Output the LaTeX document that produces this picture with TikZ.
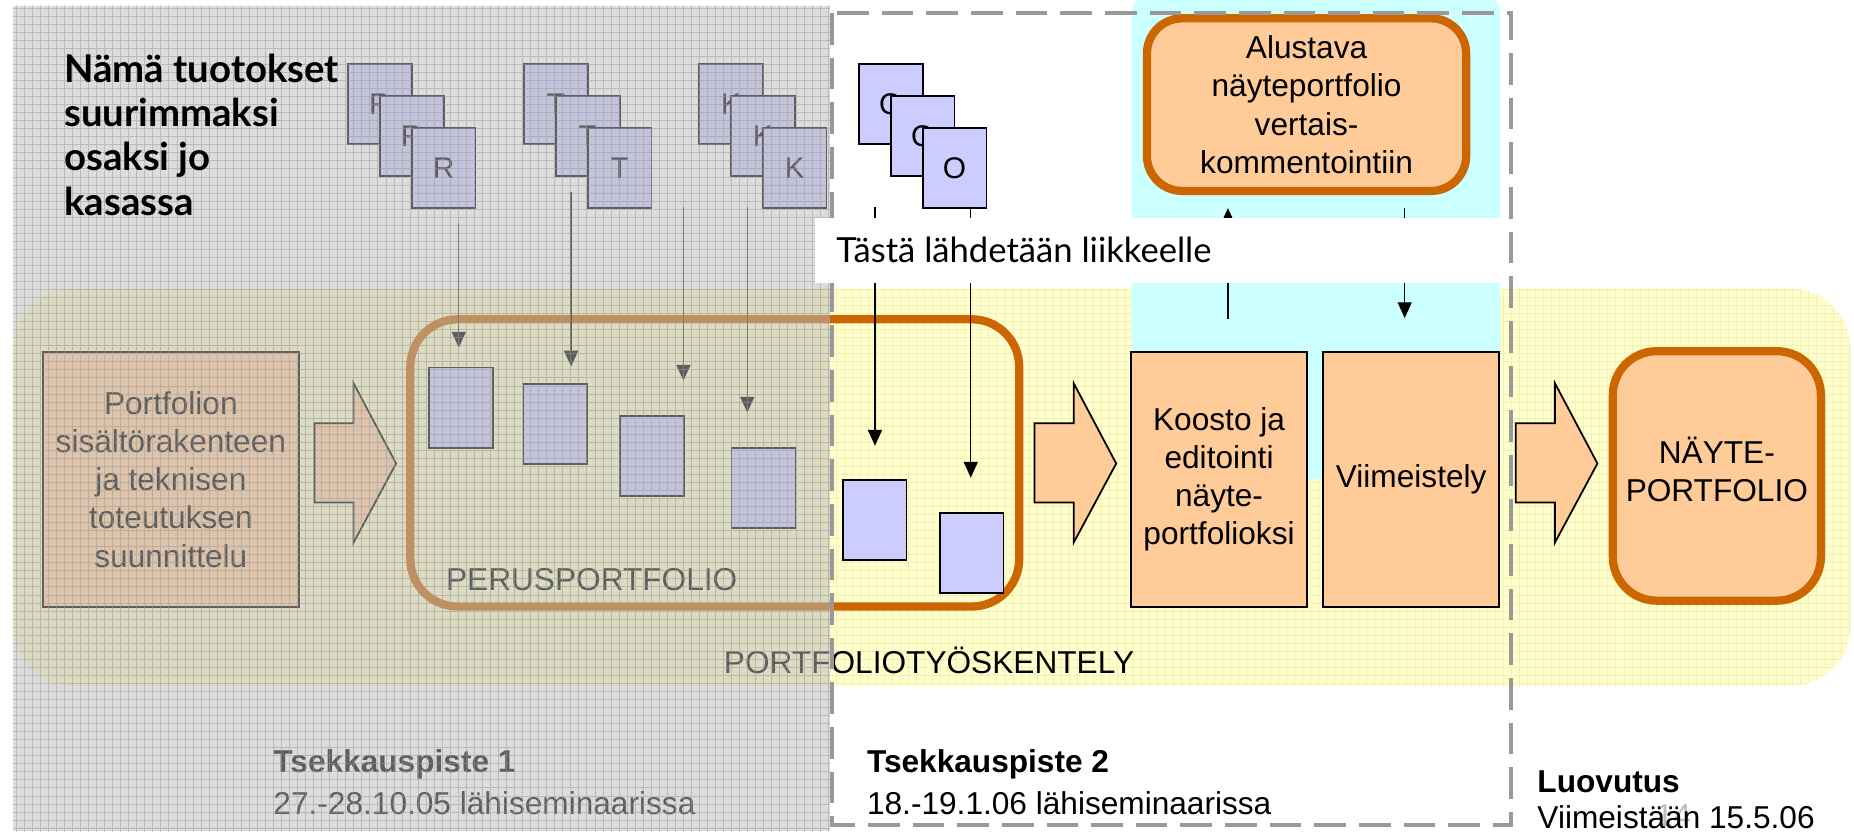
\documentclass[tikz,border=0pt]{standalone}
\usepackage{fontspec}
\setmainfont{Liberation Sans}
\newfontfamily\gill{Lato}
\usetikzlibrary{arrows.meta}
\definecolor{lilac}{HTML}{CCCCFF}
\definecolor{peach}{HTML}{FFCC99}
\definecolor{rust}{HTML}{CC6600}
\definecolor{paleyellow}{HTML}{FFFFCC}
\definecolor{yellowgrid}{HTML}{F2EFB8}
\definecolor{palecyan}{HTML}{CCFFFF}
\definecolor{dashgray}{HTML}{999999}
\definecolor{veil}{HTML}{BBBBBB}
\definecolor{veilgrid}{HTML}{9A9A9A}
\newcommand{\blkarrow}[1]{\draw[barrow] (#1,358) -- ({#1+33},358) -- ({#1+33},324) -- ({#1+69},392) -- ({#1+33},459) -- ({#1+33},425) -- (#1,425) -- cycle;}
\begin{document}
\begin{tikzpicture}[x=0.023648cm, y=-0.023648cm,
  lbl/.style={font=\fontsize{18}{21.7}\selectfont, align=center, inner sep=0pt},
  txt/.style={anchor=base west, inner sep=0pt, font=\fontsize{18}{21.7}\selectfont},
  boldtxt/.style={anchor=base west, inner sep=0pt, font=\bfseries\fontsize{18}{21.7}\selectfont},
  stackbox/.style={draw=black, line width=1pt, fill=lilac, anchor=north west, inner sep=0pt,
     minimum width=1.277cm, minimum height=1.608cm, font=\fontsize{17}{20}\selectfont},
  peachbox/.style={draw=black, line width=1.1pt, fill=peach, inner sep=0pt, align=center,
     font=\fontsize{18}{21.7}\selectfont},
  roundbox/.style={draw=rust, line width=4.7pt, fill=peach, rounded corners=20pt, inner sep=0pt},
  conn/.style={line width=0.8pt, -{Triangle[width=8pt,length=9pt]}},
  barrow/.style={draw=black, line width=1pt, fill=peach},
]
\useasboundingbox (0,0) rectangle (1568,703);
\fill[white] (0,0) rectangle (1568,703);
% yellow working area
\fill[paleyellow, rounded corners=34pt] (11,244) rectangle (1565,580);
\begin{scope}
  \clip[rounded corners=34pt] (11,244) rectangle (1565,580);
  \draw[yellowgrid, line width=0.4pt, step=0.1608cm] (0cm,-14cm) grid (37.1cm,-5.5cm);
\end{scope}
% cyan area
\fill[palecyan, rounded corners=8pt] (957,-2) rectangle (1269,405);
% perusportfolio frame
\node[draw=rust, line width=4.7pt, rounded corners=27pt, minimum width=12.179cm, minimum height=5.746cm, inner sep=0pt] (perus) at (604.5,391.5) {};
% planning
\node[peachbox, minimum width=5.132cm, minimum height=5.084cm] (plan) at (144.5,405.5) {Portfolion\\sisältörakenteen\\ja teknisen\\toteutuksen\\suunnittelu};
\blkarrow{266}
% basic papers
\node[stackbox] (pa) at (362,310) {};
\node[stackbox] (pb) at (442,324) {};
\node[stackbox] (pc) at (523.5,351) {};
\node[stackbox] (pd) at (618,378) {};
% stacks
\node[stackbox] (r1) at (293.5,53.3) {R};
\node[stackbox] (r2) at (320.5,80.3) {R};
\node[stackbox] (r3) at (347.5,107.3) {R};
\node[stackbox] (t1) at (442.3,53.3) {T};
\node[stackbox] (t2) at (469.3,80.3) {T};
\node[stackbox] (t3) at (496.3,107.3) {T};
\node[stackbox] (k1) at (590.3,53.3) {K};
\node[stackbox] (k2) at (617.3,80.3) {K};
\node[stackbox] (k3) at (644.3,107.3) {K};
\coordinate (rS) at (388,189); \coordinate (rE) at (388,294);
\coordinate (tS) at (483,162); \coordinate (tE) at (483,310);
\coordinate (mS) at (578,175); \coordinate (mE) at (578,322);
\coordinate (kS) at (632,175); \coordinate (kE) at (632,349);
\draw[conn] (rS) -- (rE);
\draw[conn] (tS) -- (tE);
\draw[conn] (mS) -- (mE);
\draw[conn] (kS) -- (kE);
\node[txt] (peruslbl) at (377,499) {PERUSPORTFOLIO};
\node[txt] (worklbl) at (612,570) {PORTFOLIOTYÖSKENTELY};
\node[boldtxt] (ts1) at (231,653) {Tsekkauspiste 1};
\node[txt] (ts1d) at (231,689) {27.-28.10.05 lähiseminaarissa};
% grey veil
\fill[veil, opacity=0.5] (11,5) rectangle (702,703);
\begin{scope}
  \clip (11,5) rectangle (702,703);
  \draw[veilgrid, line width=0.4pt, opacity=0.5, step=0.1608cm] (0cm,-16.7cm) grid (16.7cm,0cm);
\end{scope}
% right part
\node[stackbox] (o1) at (725.6,53.3) {O};
\node[stackbox] (o2) at (752.6,80.3) {O};
\node[stackbox] (o3) at (779.6,107.3) {O};
\node[stackbox] (pe) at (712,405) {};
\node[stackbox] (pf) at (794,433) {};
\coordinate (o1S) at (740,175); \coordinate (o1E) at (740,377);
\coordinate (o2S) at (821,175); \coordinate (o2E) at (821,404);
\draw[conn] (o1S) -- (o1E);
\draw[conn] (o2S) -- (o2E);
\node[peachbox, minimum width=3.512cm, minimum height=5.084cm] (koosto) at (1031,405.5) {Koosto ja\\editointi\\näyte-\\portfolioksi};
\node[peachbox, minimum width=3.523cm, minimum height=5.084cm] (viim) at (1193.5,405.5) {Viimeistely};
\blkarrow{875}
\blkarrow{1282}
\node[roundbox, rounded corners=25pt, minimum width=4.162cm, minimum height=4.990cm] (nayte) at (1452,402.5) {};
\node[lbl] (naytelbl) at (1452,397) {NÄYTE-\\PORTFOLIO};
\node[roundbox, minimum width=6.385cm, minimum height=3.453cm, align=center, font=\fontsize{18}{21.7}\selectfont] (alustava) at (1105,88.5) {Alustava\\näyteportfolio\\vertais-\\kommentointiin};
\coordinate (upS) at (1038.5,270); \coordinate (upE) at (1038.5,176);
\coordinate (dnS) at (1188,176); \coordinate (dnE) at (1188,269);
\draw[conn] (upS) -- (upE);
\draw[conn] (dnS) -- (dnE);
\node[boldtxt] (ts2) at (733,653) {Tsekkauspiste 2};
\node[txt] (ts2d) at (733,689) {18.-19.1.06 lähiseminaarissa};
\node[txt, text=black!25] (slideno) at (1400,699) {14};
\node[boldtxt] (luov) at (1300,670) {Luovutus};
\node[txt] (luovd) at (1300,701) {Viimeistään 15.5.06};
% checkpoint 2 frame
\draw[dashgray, line width=2.3pt, dash pattern=on 18pt off 7.4pt] (704,11) rectangle (1278,698);
% start banner
\node[fill=white, anchor=north west, inner sep=0pt, minimum width=13.763cm, minimum height=1.301cm] (startbox) at (689,184) {};
\node[anchor=base west, inner sep=0pt, font=\gill\fontsize{19.7}{23}\selectfont] (startlbl) at (707,222) {Tästä lähdetään liikkeelle};
% bold note
\foreach \t [count=\i] in {Nämä tuotokset,suurimmaksi,osaksi jo,kasassa}
  \node[anchor=base west, inner sep=0pt, font=\gill\bfseries\fontsize{21.8}{25}\selectfont] (nama\i) at (54,{70+37.3*(\i-1)}) {\t};
\end{tikzpicture}
\end{document}
